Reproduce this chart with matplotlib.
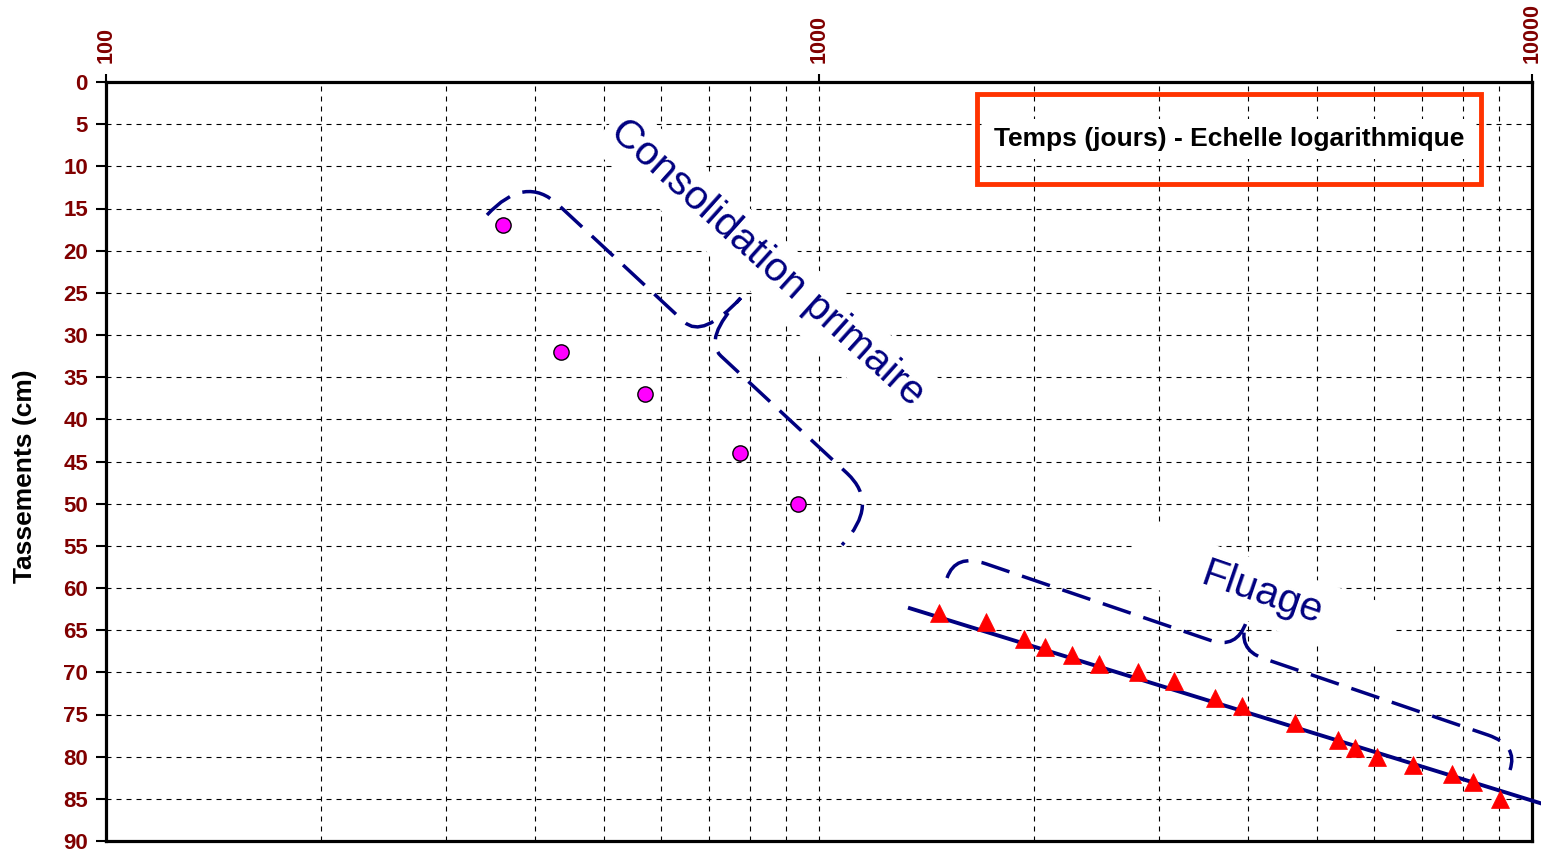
import numpy as np
import matplotlib
matplotlib.use("Agg")
import matplotlib.pyplot as plt
from matplotlib.path import Path
from matplotlib.patches import PathPatch, Polygon, Rectangle

# ---------------- data ----------------
t_primaire = [360, 435, 570, 775, 935]            # temps (jours)
s_primaire = [17, 32, 37, 44, 50]                 # tassements (cm)

t_fluage = [1473, 1713, 1936, 2074, 2261, 2470, 2798, 3150, 3593,
            3917, 4659, 5350, 5649, 6054, 6817, 7729, 8275, 9030]
s_fluage = [63, 64, 66, 67, 68, 69, 70, 71, 73,
            74, 76, 78, 79, 80, 81, 82, 83, 85]

t_fit = [1341, 10260]
s_fit = [62.4, 85.5]

x_ticks = [100, 1000, 10000]
x_ticklabels = ["100", "1000", "10000"]
y_ticks = list(range(0, 95, 5))

# ---------------- figure ----------------
W, H = 1541, 851
plt.rcParams['font.family'] = ['Liberation Sans', 'DejaVu Sans']
fig = plt.figure(figsize=(W / 100, H / 100), dpi=100)
ax = fig.add_axes([106 / W, 1 - 841 / H, 1426 / W, 759 / H])

ax.set_xscale('log')
ax.set_xlim(100, 10000)
ax.set_ylim(90, 0)

dark_red = '#800000'
navy = '#000080'

ax.set_xticks(x_ticks)
ax.set_xticklabels(x_ticklabels, rotation=90, color=dark_red,
                   fontweight='bold', fontsize=15.5)
ax.set_yticks(y_ticks)
ax.set_yticklabels([str(v) for v in y_ticks], color=dark_red,
                   fontweight='bold', fontsize=16)
ax.xaxis.set_minor_locator(matplotlib.ticker.LogLocator(base=10, subs=np.arange(2, 10)))
ax.xaxis.set_minor_formatter(matplotlib.ticker.NullFormatter())

ax.tick_params(axis='x', which='major', top=True, bottom=False,
               labeltop=True, labelbottom=False, direction='out',
               length=6, width=1.5, pad=8)
ax.tick_params(axis='x', which='minor', top=False, bottom=False, length=0)
ax.tick_params(axis='y', which='major', left=True, right=False,
               direction='out', length=7, width=1.5, pad=6)

for sp in ax.spines.values():
    sp.set_linewidth(2.3)
    sp.set_color('black')

ax.set_axisbelow(True)
grid_kw = dict(color='black', linewidth=0.8, linestyle=(0, (4.5, 4.5)))
ax.grid(True, which='both', axis='x', **grid_kw)
ax.grid(True, which='major', axis='y', **grid_kw)


# ---------------- helpers (image pixel coords -> figure fraction) ----------------
def to_fig(p):
    p = np.asarray(p, dtype=float)
    return np.column_stack([p[:, 0] / W, 1 - p[:, 1] / H])


def rot_rect(center, angle_deg, w, h):
    a = np.deg2rad(angle_deg)
    t = np.array([np.cos(a), np.sin(a)])
    n = np.array([-np.sin(a), np.cos(a)])
    c = np.asarray(center, float)
    pts = [c - w / 2 * t - h / 2 * n, c + w / 2 * t - h / 2 * n,
           c + w / 2 * t + h / 2 * n, c - w / 2 * t + h / 2 * n]
    return to_fig(pts)


def brace_path(A, B, s, c, r_end, r_mid):
    A = np.asarray(A, float)
    B = np.asarray(B, float)
    L = np.hypot(*(B - A))
    d = (B - A) / L
    n = np.array([d[1], -d[0]])
    loc = [(0, 0),
           (0, s), (r_end, s),
           (L / 2 - r_mid, s),
           (L / 2, s), (L / 2, c),
           (L / 2, s), (L / 2 + r_mid, s),
           (L - r_end, s),
           (L, s), (L, 0)]
    codes = [Path.MOVETO,
             Path.CURVE3, Path.CURVE3,
             Path.LINETO,
             Path.CURVE3, Path.CURVE3,
             Path.CURVE3, Path.CURVE3,
             Path.LINETO,
             Path.CURVE3, Path.CURVE3]
    pts = [A + u * d + v * n for u, v in loc]
    return Path(to_fig(pts), codes)


# white text boxes (hide grid behind annotations)
for poly in [rot_rect((766, 264), 42, 420, 61), rot_rect((1262, 593.5), 19, 275, 61)]:
    ax.add_patch(Polygon(poly, closed=True, facecolor='white', edgecolor='none',
                         transform=fig.transFigure, zorder=1))

# dashed braces
brace_kw = dict(facecolor='none', edgecolor=navy, linewidth=2.5,
                linestyle=(0, (8.5, 3.8)), transform=fig.transFigure,
                zorder=2, capstyle='butt')
ax.add_patch(PathPatch(brace_path((487, 215), (842, 545), 56, 112, 45, 25), **brace_kw))
ax.add_patch(PathPatch(brace_path((947, 578), (1510, 770), 26, 55, 32, 28), **brace_kw))

# annotation texts
ax.text(767 / W, 1 - 263 / H, "Consolidation primaire", transform=fig.transFigure,
        rotation=-42, rotation_mode='anchor', ha='center', va='center',
        fontsize=29.5, color=navy, zorder=3)
ax.text(1262 / W, 1 - 593.5 / H, "Fluage", transform=fig.transFigure,
        rotation=-19, rotation_mode='anchor', ha='center', va='center',
        fontsize=29.5, color=navy, zorder=3)

# title box
x0f, x1f = (977 - 106) / 1426, (1481 - 106) / 1426
y0f, y1f = 1 - (184 - 82) / 759, 1 - (94 - 82) / 759
ax.add_patch(Rectangle((x0f, y0f), x1f - x0f, y1f - y0f, transform=ax.transAxes,
                       facecolor='none', edgecolor='#FF3300', linewidth=3.5, zorder=3))
ax.text((x0f + x1f) / 2, (y0f + y1f) / 2, "Temps (jours) - Echelle logarithmique",
        transform=ax.transAxes, ha='center', va='center', fontsize=19,
        fontweight='bold', color='black', zorder=3,
        bbox=dict(boxstyle='square,pad=0.3', facecolor='white', edgecolor='none'))

# ---------------- data marks ----------------
ax.plot(t_fit, s_fit, color=navy, linewidth=2.8, zorder=4, clip_on=False)
ax.plot(t_fluage, s_fluage, linestyle='none', marker='^', markersize=13.5,
        color='#FF0000', markeredgecolor='#FF0000', markeredgewidth=0.5, zorder=5)
ax.plot(t_primaire, s_primaire, linestyle='none', marker='o', markersize=11,
        markerfacecolor='#FF00FF', markeredgecolor='black', markeredgewidth=1,
        zorder=5)

fig.text(25 / W, 1 - 476 / H, "Tassements (cm)", rotation=90, ha='center',
         va='center', fontsize=19, fontweight='bold', color='black')

fig.savefig("out.png", dpi=100)
